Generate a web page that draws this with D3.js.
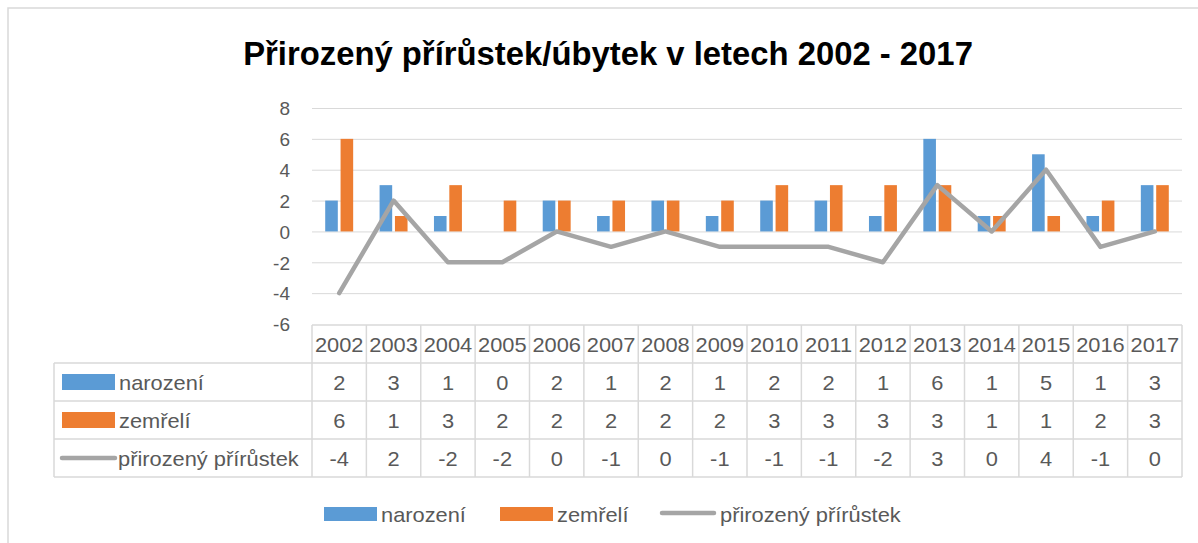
<!DOCTYPE html>
<html><head><meta charset="utf-8">
<script src="https://cdn.jsdelivr.net/npm/d3@7"></script>
<style>
html,body{margin:0;padding:0;background:#fff;}
svg{display:block;}
text{font-family:"Liberation Sans",Arial,sans-serif;}
</style></head>
<body>
<script>
const years = ["2002","2003","2004","2005","2006","2007","2008","2009","2010","2011","2012","2013","2014","2015","2016","2017"];
const narozeni = [2,3,1,0,2,1,2,1,2,2,1,6,1,5,1,3];
const zemreli  = [6,1,3,2,2,2,2,2,3,3,3,3,1,1,2,3];
const prirustek = [-4,2,-2,-2,0,-1,0,-1,-1,-1,-2,3,0,4,-1,0];
const yTicks = [-6,-4,-2,0,2,4,6,8];
const seriesNames = ["narození","zemřelí","přirozený přírůstek"];
const title = "Přirozený přírůstek/úbytek v letech 2002 - 2017";

const W = 1198, H = 543;
const C_BLUE = "#5B9BD5", C_ORANGE = "#ED7D31", C_GRAY = "#A5A5A5", C_TEXT = "#595959", C_GRID = "#D9D9D9";

const svg = d3.select("body").append("svg").attr("width", W).attr("height", H);

// outer chart border
svg.append("rect").attr("x",8).attr("y",8).attr("width",1300).attr("height",700)
  .attr("fill","none").attr("stroke",C_GRID).attr("stroke-width",1.5);

const x = d3.scaleBand().domain(years).range([312, 1182]).paddingInner(0).paddingOuter(0);
const y = d3.scaleLinear().domain([-6, 8]).range([324, 108]);
const x1 = d3.scaleBand().domain(["n","z"]).range([0, x.bandwidth()]).paddingInner(0.18).paddingOuter(0.86);

function placeText(g, str, px, py, size, anchor, fill, weight, sx){
  return g.append("text").text(str)
    .attr("font-size", size).attr("fill", fill).attr("font-weight", weight || "normal")
    .attr("text-anchor", anchor)
    .attr("transform", `translate(${px},${py}) scale(${sx},1)`);
}
function measure(str, size, weight){
  const t = svg.append("text").text(str).attr("font-size", size).attr("font-weight", weight||"normal");
  const w = t.node().getComputedTextLength(); t.remove(); return w;
}

// Title
const titleSize = 33;
const tsx = 730 / measure(title, titleSize, "bold");
placeText(svg, title, 608, 65, titleSize, "middle", "#000", "bold", tsx);

// gridlines
svg.append("g").selectAll("line").data(yTicks.filter(d => d > -6)).join("line")
  .attr("x1", 312).attr("x2", 1182).attr("y1", d => y(d)+0.5).attr("y2", d => y(d)+0.5)
  .attr("stroke", C_GRID).attr("stroke-width", 1);

// y axis labels
const yAxis = d3.axisLeft(y).tickValues(yTicks).tickSize(0).tickPadding(0).tickFormat(d => String(d));
const ga = svg.append("g").attr("transform","translate(290,0)").call(yAxis);
ga.select(".domain").remove();
ga.selectAll("text").attr("font-size",19).attr("fill",C_TEXT).attr("font-family",'"Liberation Sans",Arial,sans-serif').attr("dy","0.36em");

// bars
const bars = svg.append("g");
bars.selectAll("rect.n").data(years).join("rect").attr("class","n")
  .attr("x", (d) => x(d) + x1("n")).attr("width", x1.bandwidth())
  .attr("y", (d,i) => y(Math.max(0, narozeni[i]))).attr("height", (d,i) => Math.abs(y(narozeni[i]) - y(0)))
  .attr("fill", C_BLUE);
bars.selectAll("rect.z").data(years).join("rect").attr("class","z")
  .attr("x", (d) => x(d) + x1("z")).attr("width", x1.bandwidth())
  .attr("y", (d,i) => y(Math.max(0, zemreli[i]))).attr("height", (d,i) => Math.abs(y(zemreli[i]) - y(0)))
  .attr("fill", C_ORANGE);

// line
const line = d3.line().x((d,i) => x(years[i]) + x.bandwidth()/2).y(d => y(d));
svg.append("path").datum(prirustek).attr("d", line).attr("fill","none")
  .attr("stroke", C_GRAY).attr("stroke-width", 4.5).attr("stroke-linejoin","round").attr("stroke-linecap","round");

// data table
const tSize = 20;
const tsxT = 85 / measure(seriesNames[0], tSize);
const rowTop = [325, 363, 401, 439, 477];
const tbl = svg.append("g");
const lineAttr = s => s.attr("stroke", C_GRID).attr("stroke-width", 1.5).attr("fill","none");
tbl.append("line").attr("x1",312).attr("x2",1182).attr("y1",rowTop[0]).attr("y2",rowTop[0]).call(lineAttr);
rowTop.slice(1).forEach(r => tbl.append("line").attr("x1",54).attr("x2",1182).attr("y1",r).attr("y2",r).call(lineAttr));
const vx = years.map(d => x(d)).concat([x.range()[1]]);
vx.forEach(v => tbl.append("line").attr("x1",v).attr("x2",v).attr("y1",rowTop[0]).attr("y2",rowTop[4]).call(lineAttr));
tbl.append("line").attr("x1",54).attr("x2",54).attr("y1",rowTop[1]).attr("y2",rowTop[4]).call(lineAttr);

years.forEach(d => placeText(tbl, d, x(d)+x.bandwidth()/2, (rowTop[0]+rowTop[1])/2 + 7.5, tSize, "middle", C_TEXT, "normal", tsxT));
const rows = [narozeni, zemreli, prirustek];
rows.forEach((arr, r) => {
  const cy = (rowTop[r+1] + rowTop[r+2]) / 2;
  arr.forEach((v, i) => placeText(tbl, String(v), x(years[i]) + x.bandwidth()/2, cy + 7.5, tSize, "middle", C_TEXT, "normal", tsxT));
  if (r < 2) {
    tbl.append("rect").attr("x", 62).attr("y", cy - 8).attr("width", 53).attr("height", 16).attr("fill", r === 0 ? C_BLUE : C_ORANGE);
    placeText(tbl, seriesNames[r], 119, cy + 7.5, tSize, "start", C_TEXT, "normal", tsxT);
  } else {
    tbl.append("line").attr("x1", 62).attr("x2", 115).attr("y1", cy).attr("y2", cy).attr("stroke", C_GRAY).attr("stroke-width", 4.5).attr("stroke-linecap","round");
    placeText(tbl, seriesNames[r], 118, cy + 7.5, tSize, "start", C_TEXT, "normal", tsxT);
  }
});

// bottom legend
const lg = svg.append("g");
const ly = 514;
lg.append("rect").attr("x",324).attr("y",ly-7).attr("width",53).attr("height",14).attr("fill",C_BLUE);
placeText(lg, seriesNames[0], 381, ly+7.5, tSize, "start", C_TEXT, "normal", tsxT);
lg.append("rect").attr("x",500).attr("y",ly-7).attr("width",53).attr("height",14).attr("fill",C_ORANGE);
placeText(lg, seriesNames[1], 557, ly+7.5, tSize, "start", C_TEXT, "normal", tsxT);
lg.append("line").attr("x1",662).attr("x2",714).attr("y1",ly-1).attr("y2",ly-1).attr("stroke",C_GRAY).attr("stroke-width",4.5).attr("stroke-linecap","round");
placeText(lg, seriesNames[2], 720, ly+7.5, tSize, "start", C_TEXT, "normal", tsxT);
</script>
</body></html>
